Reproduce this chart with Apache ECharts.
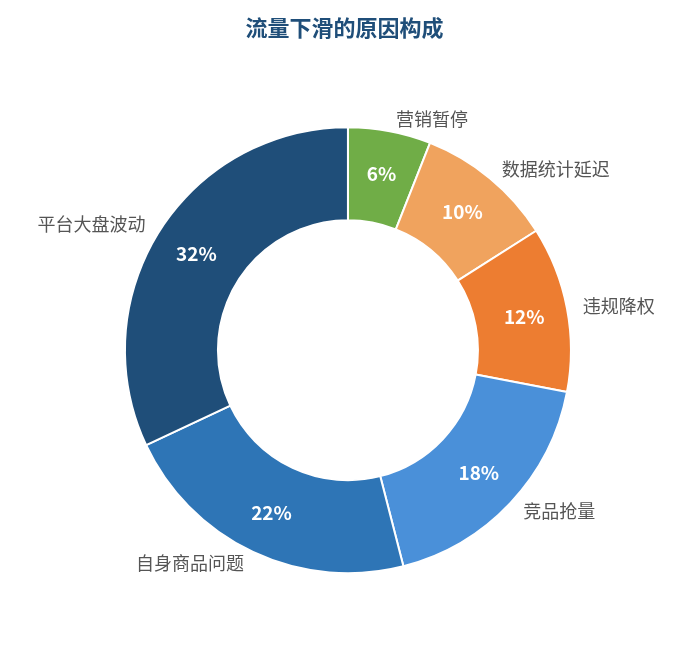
<!DOCTYPE html>
<html>
<head>
<meta charset="utf-8">
<script src="https://cdn.jsdelivr.net/npm/echarts@6/dist/echarts.min.js"></script>
<style>html,body{margin:0;padding:0;background:#fff}#chart{width:689px;height:645px}</style>
</head>
<body>
<div id="chart"></div>
<script>
var categories = ['营销暂停', '数据统计延迟', '违规降权', '竞品抢量', '自身商品问题', '平台大盘波动'];
var values = [6, 10, 12, 18, 22, 32];
var colors = ['#70AD47', '#F0A35E', '#ED7D31', '#4A90D9', '#2E75B6', '#1F4E79'];

var data = categories.map(function (c, i) {
    return { name: c, value: values[i], itemStyle: { color: colors[i] } };
});
var font = '"Microsoft YaHei","Noto Sans CJK SC",sans-serif';

var myChart = echarts.init(document.getElementById('chart'));
myChart.setOption({
    title: {
        text: '流量下滑的原因构成',
        left: 'center',
        top: 12,
        textStyle: { color: '#1F4E79', fontSize: 22, fontWeight: 'bold', fontFamily: font }
    },
    series: [
        {
            type: 'pie',
            center: ['50.5%', '54.3%'],
            radius: [130, 223],
            startAngle: 90,
            clockwise: true,
            silent: true,
            itemStyle: { borderColor: '#fff', borderWidth: 2 },
            label: {
                position: 'outside',
                formatter: '{b}',
                color: '#555',
                fontSize: 18,
                fontFamily: font,
                distanceToLabelLine: 0
            },
            labelLine: { show: true, length: 12, length2: 4, lineStyle: { opacity: 0 } },
            data: data
        },
        {
            type: 'pie',
            center: ['50.5%', '54.3%'],
            radius: [130, 223],
            startAngle: 90,
            clockwise: true,
            silent: true,
            itemStyle: { color: 'transparent', borderWidth: 0 },
            label: {
                position: 'inside',
                formatter: '{c}%',
                color: '#fff',
                fontSize: 19,
                fontWeight: 'bold',
                fontFamily: font
            },
            labelLine: { show: false },
            data: categories.map(function (c, i) { return { name: c, value: values[i] }; })
        }
    ]
});
</script>
</body>
</html>
